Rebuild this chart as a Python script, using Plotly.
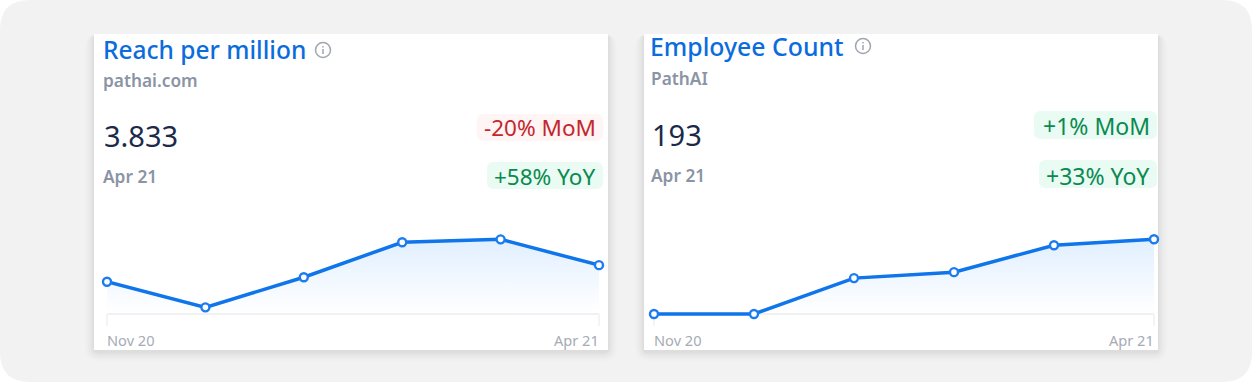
import plotly.graph_objects as go

W, H = 1252, 382

months = ["Nov 20", "Dec 20", "Jan 21", "Feb 21", "Mar 21", "Apr 21"]
reach_values = [3.2, 2.22, 3.37, 4.71, 4.82, 3.833]
employee_values = [168, 168, 180, 182, 191, 193]

reach_title = "Reach per million"
reach_sub = "pathai.com"
reach_big = "3.833"
reach_date = "Apr 21"
reach_mom = "-20% MoM"
reach_yoy = "+58% YoY"

emp_title = "Employee Count"
emp_sub = "PathAI"
emp_big = "193"
emp_date = "Apr 21"
emp_mom = "+1% MoM"
emp_yoy = "+33% YoY"

FONT = "Noto Sans, Open Sans, sans-serif"
BLUE = "#0f75ea"
TITLE = "#0b6cdc"
GREY = "#8b94a5"
DARK = "#1b2a4a"
RED, RED_BG = "#c4262e", "#fff5f4"
GREEN, GREEN_BG = "#0a8a50", "#e9fbf2"


def fx(p):
    return p / W


def fy(p):
    return 1 - p / H


def rr(x0, y0, x1, y1, r):
    a, b, c, d = fx(x0), fy(y0), fx(x1), fy(y1)
    rx, ry = r / W, r / H
    return (f"M {a+rx} {b} L {c-rx} {b} Q {c} {b} {c} {b-ry} L {c} {d+ry} Q {c} {d} {c-rx} {d} "
            f"L {a+rx} {d} Q {a} {d} {a} {d+ry} L {a} {b-ry} Q {a} {b} {a+rx} {b} Z")


shapes = []
annotations = []


def box(x0, y0, x1, y1, r, color):
    shapes.append(dict(type="path", xref="paper", yref="paper", path=rr(x0, y0, x1, y1, r),
                       fillcolor=color, line_width=0, layer="below"))


def label(x, y, text, size, color, anchor="left", weight=400):
    annotations.append(dict(xref="paper", yref="paper", x=fx(x), y=fy(y), text=text, showarrow=False,
                            xanchor=anchor, yanchor="middle", xshift=0, borderpad=0,
                            font=dict(family=FONT, size=size, color=color, weight=weight)))


def info_icon(cx, cy):
    rx, ry = 7.5 / W, 7.5 / H
    shapes.append(dict(type="circle", xref="paper", yref="paper", x0=fx(cx) - rx, x1=fx(cx) + rx,
                       y0=fy(cy) - ry, y1=fy(cy) + ry, line=dict(color="#a0a5ae", width=1.5)))
    shapes.append(dict(type="line", xref="paper", yref="paper", x0=fx(cx), x1=fx(cx),
                       y0=fy(cy - 1), y1=fy(cy + 4), line=dict(color="#a0a5ae", width=1.5)))
    shapes.append(dict(type="line", xref="paper", yref="paper", x0=fx(cx), x1=fx(cx),
                       y0=fy(cy - 4), y1=fy(cy - 2.6), line=dict(color="#a0a5ae", width=1.5)))


# page background
box(0, 0, W, H, 30, "#f2f2f2")


def card(x0, x1):
    for i, a in zip(range(10, 0, -1), [.003, .004, .005, .006, .007, .008, .009, .01, .012, .014]):
        box(x0 - i, 34, x1 + i, 350 + i + 2, 4 + i, f"rgba(0,0,0,{a})")
    box(x0, 34, x1, 350, 0, "#ffffff")


card(94, 608)
card(644, 1158)

# Card 1 texts
label(101.5, 49.5, reach_title, 24.5, TITLE, weight=500)
label(101.5, 81, reach_sub, 17.3, GREY, weight=600)
label(102.5, 135.5, reach_big, 29, DARK)
label(101.5, 176, reach_date, 17.3, GREY, weight=600)
info_icon(323, 50)
box(477, 114, 603, 141, 7, RED_BG)
box(487, 162, 603, 189, 7, GREEN_BG)
label(597, 127, reach_mom, 22.5, RED, "right")
label(596, 176.5, reach_yoy, 22.5, GREEN, "right")

# Card 2 texts
label(649, 45.5, emp_title, 24.8, TITLE, weight=500)
label(649.5, 78, emp_sub, 17.3, GREY, weight=600)
label(651, 134, emp_big, 29, DARK)
label(649.5, 175.5, emp_date, 17.3, GREY, weight=600)
info_icon(863, 46)
box(1034, 111, 1157, 139, 7, GREEN_BG)
box(1039, 160, 1157, 188, 7, GREEN_BG)
label(1151, 126, emp_mom, 23, GREEN, "right")
label(1151, 175.5, emp_yoy, 23, GREEN, "right")

fig = go.Figure()


def series(values, xa, ya, lo):
    xname = "x" if xa == 1 else f"x{xa}"
    yname = "y" if ya == 1 else f"y{ya}"
    fig.add_trace(go.Scatter(
        x=months, y=values, xaxis=xname, yaxis=yname, mode="lines+markers", cliponaxis=False,
        line=dict(color=BLUE, width=3.5),
        marker=dict(size=8, color="#ffffff", line=dict(color="#1a7cf0", width=2.4)),
        fill="tozeroy",
        fillgradient=dict(type="vertical", start=lo, stop=max(values),
                          colorscale=[[0, "rgba(225,239,255,0)"], [1, "rgba(225,239,255,1)"]]),
        showlegend=False, hoverinfo="skip"))


series(reach_values, 1, 1, 2)
series(employee_values, 2, 2, 168)


def xaxis(x0, x1, pos):
    return dict(domain=[fx(x0), fx(x1)], type="category", range=[0, len(months) - 1],
                anchor="free", position=fy(pos),
                showgrid=False, zeroline=False, showline=True, linecolor="#f0f1f3", linewidth=1.5,
                ticks="outside", ticklen=12, tickwidth=1.5, tickcolor="#f3f4f5", layer="below traces",
                tickvals=[months[0], months[-1]], showticklabels=False, fixedrange=True)


def yaxis(top, bottom, lo, hi, anchor):
    return dict(domain=[fy(bottom), fy(top)], range=[lo, hi], anchor=anchor, visible=False,
                showgrid=False, zeroline=False, fixedrange=True)


for xa in ["x", "x2"]:
    for idx, anc, shift in [(0, "left", -2), (len(months) - 1, "right", 2)]:
        annotations.append(dict(xref=xa, yref="paper", x=idx, y=fy(340), text=months[idx], showarrow=False,
                                xanchor=anc, yanchor="middle", xshift=shift,
                                font=dict(family=FONT, size=14.6, color="#a6abb5")))

# The plot areas extend below the visible baseline so a line lying on it keeps its full width.
fig.update_layout(
    width=W, height=H, margin=dict(l=0, r=0, t=0, b=0, pad=0, autoexpand=False),
    paper_bgcolor="#ffffff", plot_bgcolor="rgba(0,0,0,0)",
    xaxis=xaxis(107, 599, 313.5), yaxis=yaxis(208.5, 317, 1.85, 6, "x"),
    xaxis2=xaxis(654, 1154, 313.5), yaxis2=yaxis(218.3, 317, 167, 200, "x2"),
    shapes=shapes, annotations=annotations, hovermode=False,
)

fig.write_html("out.html", config={"displayModeBar": False},
               post_script="document.body.style.margin='0';document.body.style.background='#fff';")
